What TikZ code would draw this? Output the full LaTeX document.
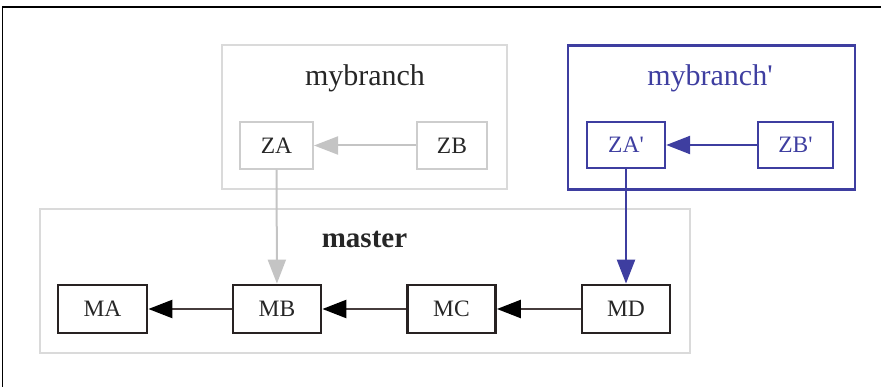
\documentclass[tikz,border=0pt]{standalone}
\usepackage{fontspec}
\setmainfont{Liberation Serif}
\usetikzlibrary{arrows.meta}
\definecolor{oldgray}{RGB}{205,205,205}
\definecolor{clustergray}{RGB}{218,218,218}
\definecolor{arrowgray}{RGB}{196,196,196}
\definecolor{newblue}{RGB}{62,62,160}
\definecolor{darkline}{RGB}{40,34,34}
\definecolor{shaft}{RGB}{70,60,60}
\tikzset{
  commit/.style={draw, rectangle, inner sep=0pt, minimum height=47pt,
    font=\fontsize{23.5}{26}\selectfont},
  oldcommit/.style={commit, draw=oldgray, line width=2pt, text=black!85},
  newcommit/.style={commit, draw=newblue, line width=2.4pt, text=newblue},
  mastercommit/.style={commit, draw=darkline, line width=2.8pt, text=black!85, minimum width=88pt, minimum height=48pt},
  cluster/.style={draw, rectangle, inner sep=0pt, minimum height=144pt},
  clusterlabel/.style={inner sep=0pt, font=\fontsize{30}{34}\selectfont},
  head/.style={-{Triangle[length=24pt,width=18pt]}},
  blackhead/.style={-{Triangle[length=24pt,width=18pt,fill=black,color=black]}},
}
\begin{document}
\begin{tikzpicture}[x=1pt,y=-1pt]
  \useasboundingbox (0,0) rectangle (881,387);
  % frame edges
  \draw[line width=1.6pt, black] (2.5,387) -- (2.5,7) -- (881,7);

  % clusters
  \node[cluster, draw=clustergray, line width=2pt, minimum width=285pt] (cmybranch) at (364.5,117) {};
  \node[cluster, draw=newblue, line width=2.4pt, minimum width=287pt] (cnew) at (711.5,117.5) {};
  \node[cluster, draw=clustergray, line width=2pt, minimum width=650pt] (cmaster) at (365,281) {};

  \node[clusterlabel, text=black!85] (lmybranch) at (365,78) {mybranch};
  \node[clusterlabel, text=newblue] (lnew) at (710,78.5) {mybranch\textquotesingle};
  \node[clusterlabel, text=black!85, font=\fontsize{29}{33}\selectfont\bfseries] (lmaster) at (364.5,239) {master};

  % commits
  \node[oldcommit, minimum width=73pt] (ZA) at (276.5,145.5) {ZA};
  \node[oldcommit, minimum width=70pt] (ZB) at (452,145.5) {ZB};
  \node[newcommit, minimum width=78pt, minimum height=46pt] (ZAp) at (626,145) {ZA\textquotesingle};
  \node[newcommit, minimum width=75pt, minimum height=46pt] (ZBp) at (795.5,145) {ZB\textquotesingle};
  \node[mastercommit, minimum width=89pt] (MA) at (102.5,309) {MA};
  \node[mastercommit] (MB) at (277,309) {MB};
  \node[mastercommit] (MC) at (451.5,309) {MC};
  \node[mastercommit] (MD) at (626,309) {MD};

  % parent links
  \draw[head, draw=arrowgray, fill=arrowgray, line width=2pt] (ZB) -- (ZA);
  \draw[head, draw=arrowgray, fill=arrowgray, line width=2pt] (ZA) -- (MB);
  \draw[head, draw=newblue, fill=newblue, line width=2.4pt] (ZBp) -- (ZAp);
  \draw[head, draw=newblue, fill=newblue, line width=2.4pt] (ZAp) -- (MD);
  \draw[blackhead, draw=shaft, line width=2.4pt] (MB) -- (MA);
  \draw[blackhead, draw=shaft, line width=2.4pt] (MC) -- (MB);
  \draw[blackhead, draw=shaft, line width=2.4pt] (MD) -- (MC);
\end{tikzpicture}
\end{document}
